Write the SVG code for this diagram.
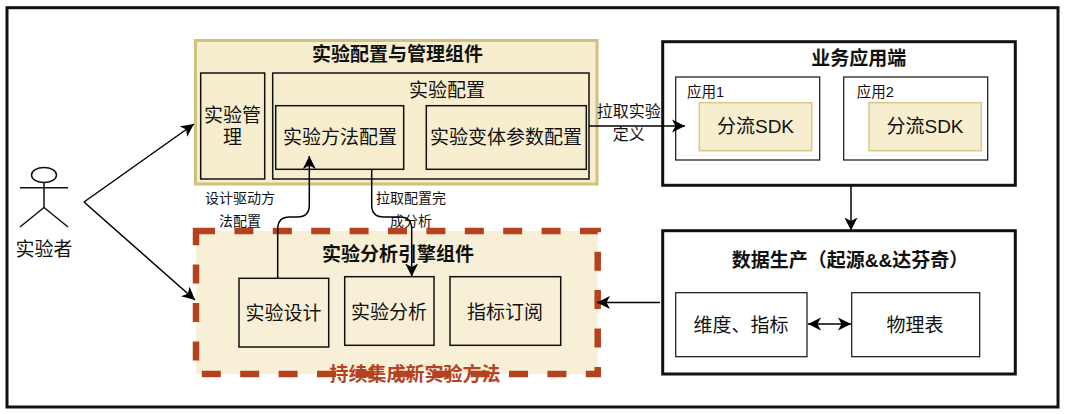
<svg xmlns="http://www.w3.org/2000/svg" width="1066" height="414" viewBox="0 0 1066 414">
<style>
text{font-family:"Liberation Sans","Noto Sans CJK SC",sans-serif;font-size:19px;fill:#111;text-anchor:middle;dominant-baseline:central}
.b{font-weight:bold}
.s{font-size:14px}
.m{font-size:16px}
.st{text-anchor:start;font-size:14.5px}
.box{fill:none;stroke:#111;stroke-width:1.5}
.thick{fill:#fff;stroke:#111;stroke-width:3}
.thin{fill:#fff;stroke:#111;stroke-width:1.2}
.sdk{fill:#f6eecf;stroke:#d6c98a;stroke-width:1.5}
.c{fill:none;stroke:#000;stroke-width:1.5}
</style>
<defs>
<marker id="a" markerUnits="userSpaceOnUse" markerWidth="14" markerHeight="14" refX="13" refY="7" orient="auto-start-reverse"><path d="M13 7L0 .5L3.5 7L0 13.500Z" fill="#000"/></marker>
</defs>
<rect x="0" y="0" width="1066" height="414" fill="#fff"/>
<rect id="frame" x="7" y="7.700" width="1051" height="399.300" fill="none" stroke="#111" stroke-width="3"/>
<g id="config-panel">
<rect x="195.500" y="40.500" width="401.500" height="143.500" fill="#f6eecf" stroke="#d0c27c" stroke-width="3"/>
<text class="b" x="397.500" y="54">实验配置与管理组件</text>
</g>
<g id="mgmt"><rect class="box" x="200.700" y="73" width="64" height="106"/><text x="232.500" y="115.700">实验管</text><text x="232.500" y="137.500">理</text></g>
<g id="config"><rect class="box" x="272.700" y="73" width="316.300" height="106"/><text x="447" y="90">实验配置</text></g>
<g id="method"><rect class="box" x="275.700" y="105.700" width="128" height="63.600"/><text x="340" y="137.700">实验方法配置</text></g>
<g id="variant"><rect class="box" x="426.300" y="105.700" width="160" height="63.600"/><text x="506" y="137.700">实验变体参数配置</text></g>
<g id="engine-panel">
<rect x="196" y="231" width="401.700" height="143" fill="#f8f0d6" stroke="#b5421f" stroke-width="6.500" stroke-dasharray="19 19.400"/>
<text class="b" x="398" y="254">实验分析引擎组件</text>
<text class="b" x="415" y="374" style="fill:#b5421f">持续集成新实验方法</text>
</g>
<g id="design"><rect class="box" x="239" y="278.300" width="89.700" height="68.700"/><text x="283.500" y="313">实验设计</text></g>
<g id="analysis"><rect class="box" x="344.700" y="276.700" width="89.300" height="68.600"/><text x="389" y="312">实验分析</text></g>
<g id="metrics"><rect class="box" x="450" y="276.700" width="110.700" height="68.600"/><text x="505" y="312">指标订阅</text></g>
<g id="biz">
<rect class="thick" x="662.700" y="41.700" width="352.600" height="143.600"/>
<text class="b" x="858.700" y="58">业务应用端</text>
</g>
<g id="app1"><rect class="thin" x="675.700" y="77" width="144" height="83"/><text class="st" x="687" y="91.700">应用1</text>
<rect class="sdk" x="699.300" y="102.700" width="112.400" height="48"/><text x="755.500" y="126.700">分流SDK</text></g>
<g id="app2"><rect class="thin" x="843.700" y="77" width="144" height="83"/><text class="st" x="856.700" y="91.700">应用2</text>
<rect class="sdk" x="869" y="102.700" width="112.300" height="48"/><text x="925" y="126.700">分流SDK</text></g>
<g id="data">
<rect class="thick" x="662.700" y="230.700" width="352.600" height="143.300"/>
<text class="b" x="850" y="260.700">数据生产（起源&amp;&amp;达芬奇）</text>
</g>
<g id="dim"><rect class="thin" x="675.700" y="292.700" width="131.300" height="64"/><text x="741" y="325">维度、指标</text></g>
<g id="phys"><rect class="thin" x="851.700" y="292.700" width="128" height="64"/><text x="915" y="325">物理表</text></g>
<g id="actor" fill="none" stroke="#111" stroke-width="1.500">
<ellipse cx="44" cy="175" rx="12.500" ry="7.500"/>
<path d="M44 182.500V207.500M20 187.700H68M44 207.500L20 227M44 207.500L68 227"/>
<text x="44" y="249" style="stroke:none">实验者</text>
</g>
<g id="connectors">
<path class="c" marker-end="url(#a)" d="M84 202L194 124"/>
<path class="c" marker-end="url(#a)" d="M84 202L195 300"/>
<path class="c" marker-end="url(#a)" d="M277.700 278V229Q277.700 217 289.700 217H297.300Q309.300 217 309.300 205V156"/>
<path class="c" marker-end="url(#a)" d="M371.700 169.300V205Q371.700 217 383.700 217H399.700Q411.700 217 411.700 229V276.500"/>
<path class="c" marker-end="url(#a)" d="M589 126H685"/>
<path class="c" marker-end="url(#a)" d="M851 185.300V230.500"/>
<path class="c" marker-end="url(#a)" d="M660 302.500H597"/>
<path class="c" marker-start="url(#a)" marker-end="url(#a)" d="M808 324H851"/>
</g>
<g id="labels">
<text class="s" x="240" y="197.700">设计驱动方</text><text class="s" x="240" y="221">法配置</text>
<text class="s" x="411" y="197.700">拉取配置完</text><text class="s" x="411" y="221">成分析</text>
<text class="m" x="628.700" y="111.700">拉取实验</text><text class="m" x="628.700" y="134">定义</text>
</g>
</svg>
